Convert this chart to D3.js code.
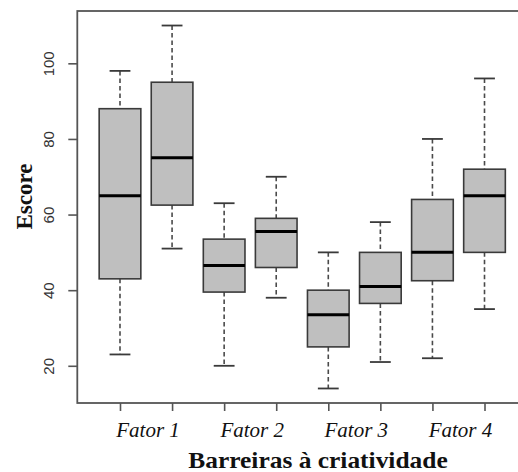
<!DOCTYPE html>
<html>
<head>
<meta charset="utf-8">
<script src="https://cdn.jsdelivr.net/npm/d3@7"></script>
<style>
  body { margin: 0; background: #fff; }
  svg { display: block; }
</style>
</head>
<body>
<div id="host"><svg></svg></div>
<script>
const WIDTH = 518;
const HEIGHT = 472;

// two boxes per factor
const FACTORS = ["Fator 1", "Fator 2", "Fator 3", "Fator 4"];
const LOWER = [23, 51, 20, 38, 14, 21, 22, 35];
const Q1 = [43, 62.5, 39.5, 46, 25, 36.5, 42.5, 50];
const MEDIAN = [65, 75, 46.5, 55.5, 33.5, 41, 50, 65];
const Q3 = [88, 95, 53.5, 59, 40, 50, 64, 72];
const UPPER = [98, 110, 63, 70, 50, 58, 80, 96];
const Y_TICKS = [20, 40, 60, 80, 100];

const BOX_FILL = "#bfbfbf";
const BOX_STROKE = "#3a3a3a";
const AXIS = "#555";

const boxes = LOWER.map((lo, i) => ({
  pos: i + 1,
  lo: lo,
  q1: Q1[i],
  med: MEDIAN[i],
  q3: Q3[i],
  hi: UPPER[i],
}));

// R style 4% padding on both axes
const yMin = d3.min(LOWER);
const yMax = d3.max(UPPER);
const yPad = (yMax - yMin) * 0.04;
const y = d3
  .scaleLinear()
  .domain([yMin - yPad, yMax + yPad])
  .range([403, 11]);

const n = boxes.length;
const xPad = n * 0.04;
const x = d3
  .scaleLinear()
  .domain([0.5 - xPad, n + 0.5 + xPad])
  .range([77.3, 527.2]);

const step = x(2) - x(1);
const boxW = step * 0.8;

const svg = d3.select("#host svg").attr("width", WIDTH).attr("height", HEIGHT);

// frame (right side falls outside the picture)
svg
  .append("rect")
  .attr("x", x.range()[0])
  .attr("y", y.range()[1])
  .attr("width", x.range()[1] - x.range()[0])
  .attr("height", y.range()[0] - y.range()[1])
  .attr("fill", "none")
  .attr("stroke", AXIS)
  .attr("stroke-width", 1.8);

const g = svg.append("g").selectAll("g").data(boxes).join("g");

// whiskers
g.append("line")
  .attr("x1", (d) => x(d.pos))
  .attr("x2", (d) => x(d.pos))
  .attr("y1", (d) => y(d.hi))
  .attr("y2", (d) => y(d.q3))
  .attr("stroke", "#4a4a4a")
  .attr("stroke-width", 1.6)
  .attr("stroke-dasharray", "4.5,3");
g.append("line")
  .attr("x1", (d) => x(d.pos))
  .attr("x2", (d) => x(d.pos))
  .attr("y1", (d) => y(d.q1))
  .attr("y2", (d) => y(d.lo))
  .attr("stroke", "#4a4a4a")
  .attr("stroke-width", 1.6)
  .attr("stroke-dasharray", "4.5,3");

// staples
for (const key of ["hi", "lo"]) {
  g.append("line")
    .attr("x1", (d) => x(d.pos) - boxW / 4)
    .attr("x2", (d) => x(d.pos) + boxW / 4)
    .attr("y1", (d) => y(d[key]))
    .attr("y2", (d) => y(d[key]))
    .attr("stroke", "#3a3a3a")
    .attr("stroke-width", 1.8);
}

// boxes
g.append("rect")
  .attr("x", (d) => x(d.pos) - boxW / 2)
  .attr("y", (d) => y(d.q3))
  .attr("width", boxW)
  .attr("height", (d) => y(d.q1) - y(d.q3))
  .attr("fill", BOX_FILL)
  .attr("stroke", BOX_STROKE)
  .attr("stroke-width", 1.6);

// medians
g.append("line")
  .attr("x1", (d) => x(d.pos) - boxW / 2)
  .attr("x2", (d) => x(d.pos) + boxW / 2)
  .attr("y1", (d) => y(d.med))
  .attr("y2", (d) => y(d.med))
  .attr("stroke", "#000")
  .attr("stroke-width", 3);

// y axis
const yAxis = svg
  .append("g")
  .attr("transform", `translate(${x.range()[0]},0)`)
  .call(d3.axisLeft(y).tickValues(Y_TICKS).tickSize(9).tickPadding(6));
yAxis.select(".domain").remove();
yAxis.selectAll(".tick line").attr("stroke", AXIS).attr("stroke-width", 1.6);
yAxis
  .selectAll(".tick text")
  .attr("transform", "rotate(-90)")
  .attr("x", 0)
  .attr("y", -23)
  .attr("dy", 0)
  .attr("text-anchor", "middle")
  .attr("fill", "#333")
  .style("font-family", "'Liberation Sans', Arial, sans-serif")
  .style("font-size", "15px");

// x axis: a tick under every box
const xAxis = svg
  .append("g")
  .attr("transform", `translate(0,${y.range()[0]})`)
  .call(
    d3
      .axisBottom(x)
      .tickValues(boxes.map((d) => d.pos))
      .tickSize(8)
      .tickFormat("")
  );
xAxis.select(".domain").remove();
xAxis.selectAll(".tick line").attr("stroke", AXIS).attr("stroke-width", 1.6);

// factor labels centred between each pair
svg
  .append("g")
  .selectAll("text")
  .data(FACTORS)
  .join("text")
  .attr("x", (d, i) => x(i * 2 + 1.5) + 2)
  .attr("y", 437)
  .attr("text-anchor", "middle")
  .style("font-family", "'Liberation Serif', 'Times New Roman', serif")
  .style("font-style", "italic")
  .style("font-size", "21px")
  .attr("fill", "#111")
  .text((d) => d);

// titles
svg
  .append("text")
  .attr("transform", "translate(318,468) scale(1.06,1)")
  .attr("text-anchor", "middle")
  .style("font-family", "'Liberation Serif', 'Times New Roman', serif")
  .style("font-weight", "bold")
  .style("font-size", "24px")
  .attr("fill", "#111")
  .text("Barreiras à criatividade");

svg
  .append("text")
  .attr("transform", "translate(32,196.5) rotate(-90)")
  .attr("text-anchor", "middle")
  .style("font-family", "'Liberation Serif', 'Times New Roman', serif")
  .style("font-weight", "bold")
  .style("font-size", "23px")
  .attr("fill", "#111")
  .text("Escore");
</script>
</body>
</html>
